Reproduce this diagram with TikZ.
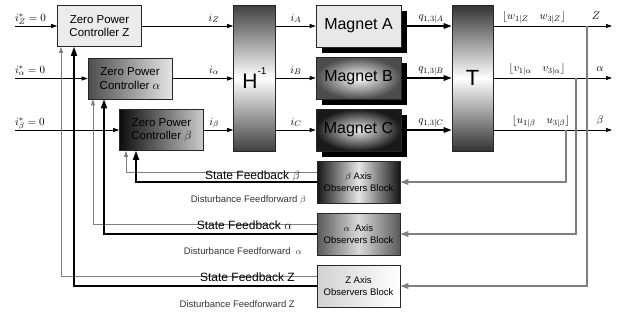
\documentclass[tikz,border=0pt]{standalone}
\usepackage{fontspec}
\setmainfont{Liberation Sans}
\usetikzlibrary{arrows.meta,calc}
\definecolor{fbgray}{HTML}{808080}
\begin{document}
\begin{tikzpicture}[x=1pt,y=-1pt,
  box/.style={draw=black!85, line width=0.6pt, inner sep=0pt, align=center},
  ctl/.style={box, minimum width=84pt, minimum height=41pt, font=\fontsize{11.5}{13.5}\selectfont},
  mag/.style={box, minimum width=85pt, minimum height=42pt, font=\fontsize{16}{18}\selectfont},
  tall/.style={box, minimum width=42pt, minimum height=146pt},
  obs/.style={box, minimum width=83pt, minimum height=42pt, font=\fontsize{9.5}{12}\selectfont},
  sig/.style={line width=0.7pt, -{Triangle[length=6pt,width=4pt]}},
  thk/.style={line width=1.6pt, -{Triangle[length=8pt,width=5.5pt]}},
  gfb/.style={draw=fbgray, line width=1.6pt, -{Triangle[length=8pt,width=5.5pt]}},
  dff/.style={draw=fbgray, line width=0.8pt, -{Triangle[length=6pt,width=4pt]}},
  sfb/.style={line width=1.6pt, -{Triangle[length=9pt,width=6pt]}},
  lab/.style={inner sep=0pt, anchor=base, font=\fontsize{11}{13}\selectfont},
  sflab/.style={inner sep=0pt, anchor=base east, font=\fontsize{12}{14}\selectfont},
  dflab/.style={inner sep=0pt, anchor=base east, font=\fontsize{9.5}{11}\selectfont, text=black!80}
]
\useasboundingbox (0,0) rectangle (618,322);

% controllers
\node[ctl, fill=black!8] (cZ) at (99.5,26) {Zero Power\\Controller Z};
\node[ctl, left color=black!70, right color=black!10] (cA) at (130,78.5) {Zero Power\\Controller $\alpha$};
\node[ctl, left color=black!95, right color=black!20] (cB) at (161.5,130) {Zero Power\\Controller $\beta$};

% H block
\node[tall, top color=black!75, bottom color=black!75, middle color=white] (H) at (254.5,78)
  {\fontsize{21}{22}\selectfont H\raisebox{1.2ex}{\fontsize{10}{10}\selectfont -1}};

% magnets with shadows
\fill[black] (322,11) rectangle (407,53);
\fill[black] (322,63) rectangle (407,105);
\fill[black] (322,115) rectangle (407,157);
\node[mag, fill=black!9] (mA) at (358.5,26) {Magnet A};
\node[mag, inner color=white, outer color=black!70] (mB) at (358.5,78) {Magnet B};
\node[mag, inner color=white!92!black, outer color=black!90] (mC) at (358.5,130) {Magnet C};

% T block
\node[tall, minimum width=41pt, top color=black!80, bottom color=black!80, middle color=white] (T) at (472.5,78)
  {\fontsize{22}{22}\selectfont T};

% observers
\node[obs, left color=black!92, right color=black!92, middle color=white!90!black] (oB) at (358.5,182) {$\beta$ Axis\\Observers Block};
\node[obs, left color=black!65, right color=black!65, middle color=white!85!black] (oA) at (358.5,234) {$\alpha$\ \ Axis\\Observers Block};
\node[obs, left color=black!18, right color=white] (oZ) at (358.5,286) {Z Axis\\Observers Block};

% inputs
\coordinate (inZ) at (15,26);
\coordinate (inA) at (15,78.5);
\coordinate (inB) at (15,130);
\draw[sig] (inZ) -- (cZ.west);
\draw[sig] (inA) -- (cA.west);
\draw[sig] (inB) -- (cB.west);
\node[lab, anchor=base west] (lZ) at (15,21) {$i_Z^*=0$};
\node[lab, anchor=base west] (lA) at (15,73) {$i_\alpha^*=0$};
\node[lab, anchor=base west] (lB) at (15,125) {$i_\beta^*=0$};

% controllers to H
\draw[sig] (cZ.east) -- (cZ.east -| H.west);
\draw[sig] (cA.east) -- (cA.east -| H.west);
\draw[sig] (cB.east) -- (cB.east -| H.west);
\node[lab] (liZ) at (214,21) {$i_Z$};
\node[lab] (liA) at (214,73) {$i_\alpha$};
\node[lab] (liB) at (214,125) {$i_\beta$};

% H to magnets
\draw[sig] (H.east |- mA.west) -- (mA.west);
\draw[sig] (H.east |- mB.west) -- (mB.west);
\draw[sig] (H.east |- mC.west) -- (mC.west);
\node[lab] (liAA) at (296,21) {$i_A$};
\node[lab] (liBB) at (296,73) {$i_B$};
\node[lab] (liCC) at (296,125) {$i_C$};

% magnets to T
\draw[thk] (mA.east) -- (mA.east -| T.west);
\draw[thk] (mB.east) -- (mB.east -| T.west);
\draw[thk] (mC.east) -- (mC.east -| T.west);
\node[lab] (qA) at (431,19) {$q_{1,3|A}$};
\node[lab] (qB) at (431,71) {$q_{1,3|B}$};
\node[lab] (qC) at (431,123) {$q_{1,3|C}$};

% T outputs
\coordinate (oZe) at (612,26);
\coordinate (oAe) at (612,78);
\coordinate (oBe) at (612,130);
\draw[sig] (T.east |- oZe) -- (oZe);
\draw[sig] (T.east |- oAe) -- (oAe);
\draw[sig] (T.east |- oBe) -- (oBe);
\node[lab] (wl) at (534,19) {$\lfloor w_{1|Z}\quad w_{3|Z}\rfloor$};
\node[lab] (vl) at (537,71) {$\lfloor v_{1|\alpha}\quad v_{3|\alpha}\rfloor$};
\node[lab] (ul) at (541,123) {$\lfloor u_{1|\beta}\quad u_{3|\beta}\rfloor$};
\node[lab] (lZo) at (596,19) {$Z$};
\node[lab] (lAo) at (600,71) {$\alpha$};
\node[lab] (lBo) at (600,123) {$\beta$};

% measured feedback to observers
\coordinate (fZ) at (587,26);
\coordinate (fA) at (576,78);
\coordinate (fB) at (566,130);
\draw[gfb] (fZ) |- (oZ.east);
\draw[gfb] (fA) |- (oA.east);
\draw[gfb] (fB) |- (oB.east);

% observers to controllers
\draw[dff] ([yshift=10pt]oB.west) -| ([xshift=-35.5pt]cB.south);
\draw[sfb] (oB.west) -| ([xshift=-25.5pt]cB.south);
\draw[dff] ([yshift=10pt]oA.west) -| ([xshift=-37pt]cA.south);
\draw[sfb] (oA.west) -| ([xshift=-26pt]cA.south);
\draw[dff] ([yshift=10pt]oZ.west) -| ([xshift=-38.5pt]cZ.south);
\draw[sfb] (oZ.west) -| ([xshift=-25.5pt]cZ.south);

\node[sflab] (sB) at (300,179) {State Feedback $\beta$};
\node[dflab] (dB) at (306,202) {Disturbance Feedforward $\beta$};
\node[sflab] (sA) at (292,229) {State Feedback $\alpha$};
\node[dflab] (dA) at (302,254) {Disturbance Feedforward\ \ $\alpha$};
\node[sflab] (sZ) at (295,281) {State Feedback Z};
\node[dflab] (dZ) at (295,307) {Disturbance Feedforward Z};
\end{tikzpicture}
\end{document}
